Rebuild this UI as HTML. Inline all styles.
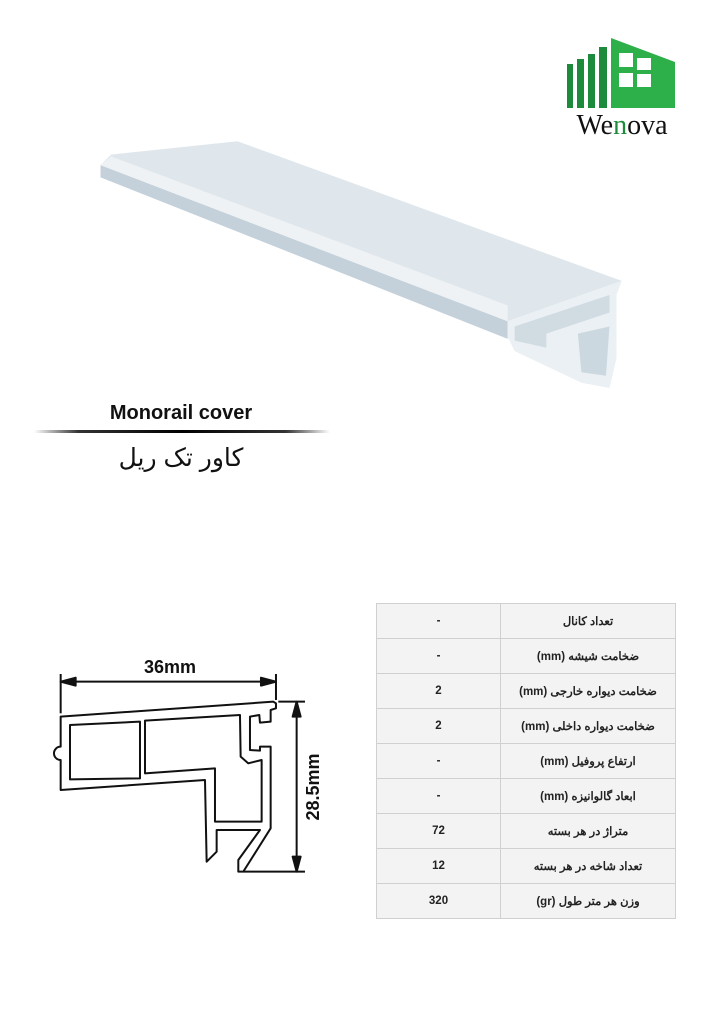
<!DOCTYPE html>
<html><head><meta charset="utf-8"><style>
body{margin:0;background:#fff;width:724px;height:1024px;position:relative;overflow:hidden;font-family:"Liberation Sans","Noto Sans CJK SC",sans-serif}
.t{position:absolute;left:376px;top:603px;border-collapse:collapse;width:300px}
.t td{border:1px solid #d0d0d0;background:#f3f3f3;height:34px;padding:0;text-align:center;font-size:11.5px;color:#222;font-weight:bold}
.t td.v{width:123px}
</style></head><body>
<svg width="724" height="1024" style="position:absolute;left:0;top:0">
<defs><linearGradient id="g" x1="0" x2="1"><stop offset="0" stop-color="#fff"/><stop offset=".15" stop-color="#333"/><stop offset=".5" stop-color="#000"/><stop offset=".85" stop-color="#333"/><stop offset="1" stop-color="#fff"/></linearGradient></defs>
<g fill="#1e8a3c">
<rect x="567" y="64" width="6" height="44"/><rect x="577" y="59" width="7" height="49"/><rect x="588" y="54" width="7" height="54"/><rect x="599" y="47" width="8" height="61"/>
<path d="M611 38 L675 62 L675 108 L611 108 Z" fill="#2db04a"/>
<rect x="619" y="53" width="14" height="14" fill="#fff"/><rect x="637" y="58" width="14" height="12" fill="#fff"/>
<rect x="619" y="73" width="14" height="14" fill="#fff"/><rect x="637" y="74" width="14" height="13" fill="#fff"/>
</g>
<text x="622" y="134" text-anchor="middle" font-family="Liberation Serif,serif" font-size="28" fill="#111">We<tspan fill="#1e8a3c">n</tspan>ova</text>
<g transform="translate(90,130) scale(0.351)">
<polygon points="30,100 1190,545 1190,595 30,135" fill="#c4d1da"/>
<polygon points="30,100 60,70 420,32 1515,430 1190,545" fill="#dfe7ec"/>
<polygon points="60,75 1190,500 1190,545 30,100" fill="#eef2f5"/>
<polygon points="1190,545 1515,430 1500,470 1500,650 1480,735 1400,720 1210,630 1190,590" fill="#eaf0f3"/>
<polygon points="1210,560 1480,470 1480,520 1300,580 1300,620 1210,600" fill="#d0dbe2"/>
<polygon points="1390,580 1480,560 1470,700 1400,690" fill="#ccd8e0"/>
</g>
<text x="181" y="419" text-anchor="middle" font-size="20" font-weight="bold" fill="#111">Monorail cover</text>
<rect x="34" y="430" width="296" height="3" fill="url(#g)"/>
<text x="181" y="466" text-anchor="middle" font-family="Liberation Sans,'Noto Sans CJK SC',DejaVu Sans,sans-serif" font-size="25" fill="#111">کاور تک ریل</text>
<text x="170" y="673" text-anchor="middle" font-size="18" font-weight="bold" fill="#111">36mm</text>
<text transform="translate(319,787) rotate(-90)" text-anchor="middle" font-size="18" font-weight="bold" fill="#111">28.5mm</text>
<g transform="translate(30,650) scale(0.3333)" fill="none" stroke="#111" stroke-width="6" stroke-linejoin="round">
<line x1="92" y1="72" x2="92" y2="190"/><line x1="738" y1="72" x2="738" y2="150"/>
<line x1="92" y1="95" x2="738" y2="95"/>
<path d="M92 95 l45 -12 v24 Z M738 95 l-45 -12 v24 Z" fill="#111"/>
<line x1="745" y1="155" x2="825" y2="155"/><line x1="640" y1="665" x2="825" y2="665"/>
<line x1="800" y1="155" x2="800" y2="665"/>
<path d="M800 155 l-12 45 h24 Z M800 665 l-12 -45 h24 Z" fill="#111"/>
<path d="M92 200 L730 155 L738 160 L738 175 L722 180 L722 215 L690 218 L688 195 L660 200 L660 300 L690 302 L690 290 L722 290 L722 535 L640 665 L625 665 L625 630 L690 540 L560 540 L560 605 L530 635 L525 390 L92 420 L92 330 A20 20 0 0 1 92 290 Z"/>
<path d="M120 225 L330 215 L330 385 L120 388 Z"/>
<path d="M345 212 L630 195 L632 320 L655 340 L695 330 L695 515 L555 515 L555 355 L345 370 Z"/>
</g>
</svg>
<table class="t">
<tr><td class="v">-</td><td dir="rtl">تعداد کانال</td></tr>
<tr><td class="v">-</td><td dir="rtl">ضخامت شیشه (mm)</td></tr>
<tr><td class="v">2</td><td dir="rtl">ضخامت دیواره خارجی (mm)</td></tr>
<tr><td class="v">2</td><td dir="rtl">ضخامت دیواره داخلی (mm)</td></tr>
<tr><td class="v">-</td><td dir="rtl">ارتفاع پروفیل (mm)</td></tr>
<tr><td class="v">-</td><td dir="rtl">ابعاد گالوانیزه (mm)</td></tr>
<tr><td class="v">72</td><td dir="rtl">متراژ در هر بسته</td></tr>
<tr><td class="v">12</td><td dir="rtl">تعداد شاخه در هر بسته</td></tr>
<tr><td class="v">320</td><td dir="rtl">وزن هر متر طول (gr)</td></tr>
</table>
</body></html>
